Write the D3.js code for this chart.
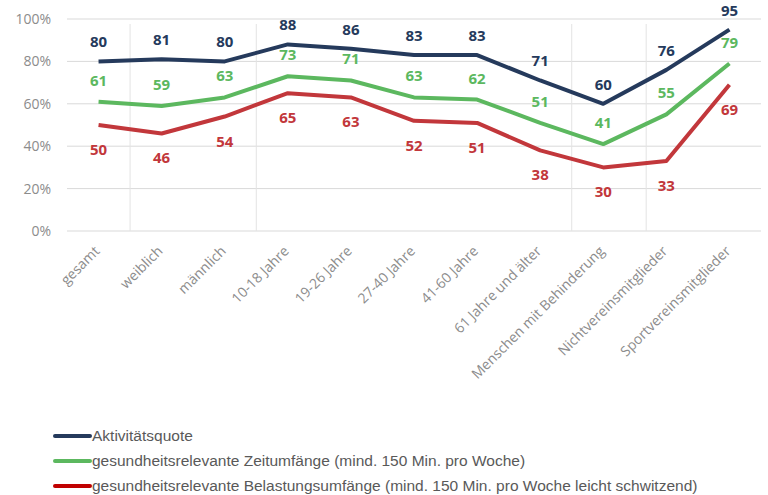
<!DOCTYPE html>
<html>
<head>
<meta charset="utf-8">
<script src="https://cdn.jsdelivr.net/npm/d3@7"></script>
<style>
  body { margin: 0; background: #fff; }
  svg { display: block; }
</style>
</head>
<body>
<svg id="chart" width="768" height="495"></svg>
<script>
let categories = ["gesamt", "weiblich", "männlich", "10-18 Jahre", "19-26 Jahre", "27-40 Jahre",
    "41-60 Jahre", "61 Jahre und älter", "Menschen mit Behinderung", "Nichtvereinsmitglieder", "Sportvereinsmitglieder"];
let aktiv = [80, 81, 80, 88, 86, 83, 83, 71, 60, 76, 95];
let zeit = [61, 59, 63, 73, 71, 63, 62, 51, 41, 55, 79];
let belastung = [50, 46, 54, 65, 63, 52, 51, 38, 30, 33, 69];
let yTicks = [0, 20, 40, 60, 80, 100];
// odd vertical gridlines in the original, given as positions between categories
let vLines = [1, 3, 8, 9.18];

let series = [
    {name: "Aktivitätsquote", values: aktiv, color: "#253a5c", legend: "#253a5c", dy: -14},
    {name: "gesundheitsrelevante Zeitumfänge (mind. 150 Min. pro Woche)", values: zeit, color: "#5cb85f", legend: "#5cb85f", dy: -16},
    {name: "gesundheitsrelevante Belastungsumfänge (mind. 150 Min. pro Woche leicht schwitzend)", values: belastung, color: "#c2373b", legend: "#c00000", dy: 30}
];

let svg = d3.select("#chart"),
    margin = {top: 19, right: 7, bottom: 264, left: 67},
    width = +svg.attr("width") - margin.left - margin.right,
    height = +svg.attr("height") - margin.top - margin.bottom,
    g = svg.append("g").attr("transform", "translate(" + margin.left + "," + margin.top + ")");

let x = d3.scaleBand().domain(categories).range([0, width]);
let y = d3.scaleLinear().domain([0, 100]).range([height, 0]);

// horizontal grid
g.append("g")
    .selectAll("line")
    .data(yTicks)
    .enter().append("line")
    .attr("x1", 0)
    .attr("x2", width)
    .attr("y1", d => y(d))
    .attr("y2", d => y(d))
    .attr("stroke", "#d9d9d9")
    .attr("stroke-width", 1);

g.append("g")
    .selectAll("line")
    .data(vLines)
    .enter().append("line")
    .attr("x1", d => d * x.step())
    .attr("x2", d => d * x.step())
    .attr("y1", y(100) + 5)
    .attr("y2", height)
    .attr("stroke", "#e3e3e3")
    .attr("stroke-width", 1);

// y axis labels
g.append("g")
    .selectAll("text")
    .data(yTicks)
    .enter().append("text")
    .attr("x", -16)
    .attr("y", d => y(d))
    .attr("dy", "0.35em")
    .attr("text-anchor", "end")
    .attr("font-family", "Open Sans, sans-serif")
    .attr("font-size", 14)
    .attr("fill", "#8c8c8c")
    .text(d => d + "%");

// x labels
g.append("g")
    .selectAll("text")
    .data(categories)
    .enter().append("text")
    .attr("text-anchor", "end")
    .attr("font-family", "Open Sans, sans-serif")
    .attr("font-size", 14)
    .attr("fill", "#8c8c8c")
    .attr("transform", d => "translate(" + (x(d) + x.bandwidth() / 2 + 2) + "," + (height + 21) + ") rotate(-45)")
    .text(d => d);

let line = d3.line()
    .x((d, i) => x(categories[i]) + x.bandwidth() / 2)
    .y(d => y(d));

series.forEach(s => {
    g.append("path")
        .datum(s.values)
        .attr("fill", "none")
        .attr("stroke", s.color)
        .attr("stroke-width", 4)
        .attr("stroke-linejoin", "round")
        .attr("d", line);

    g.append("g")
        .selectAll("text")
        .data(s.values)
        .enter().append("text")
        .attr("x", (d, i) => x(categories[i]) + x.bandwidth() / 2)
        .attr("y", d => y(d) + s.dy)
        .attr("text-anchor", "middle")
        .attr("font-family", "Open Sans, sans-serif")
        .attr("font-weight", "bold")
        .attr("font-size", 15)
        .attr("fill", s.color)
        .text(d => d);
});

// legend
let legend = svg.append("g")
    .selectAll("g")
    .data(series)
    .enter().append("g")
    .attr("transform", (d, i) => "translate(55," + (436 + i * 25) + ")");

legend.append("line")
    .attr("x1", 0)
    .attr("x2", 35)
    .attr("stroke", d => d.legend)
    .attr("stroke-width", 4)
    .attr("stroke-linecap", "round");

legend.append("text")
    .attr("x", 37)
    .attr("dy", "0.35em")
    .attr("font-family", "Liberation Sans, Arial, sans-serif")
    .attr("font-size", 15.5)
    .attr("fill", "#595959")
    .text(d => d.name);
</script>
</body>
</html>
